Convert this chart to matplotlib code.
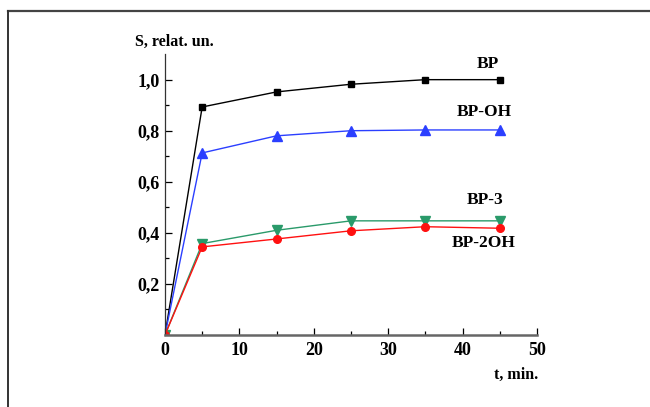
import matplotlib
matplotlib.use('Agg')
import matplotlib.pyplot as plt
from matplotlib.lines import Line2D
from matplotlib.ticker import MultipleLocator, FixedLocator

# time, min
t = [0, 5, 15, 25, 35, 45]
# relative sensitivity S for each compound
bp = [0.0, 0.893, 0.952, 0.982, 1.0, 1.0]
bp_oh = [0.0, 0.713, 0.780, 0.800, 0.803, 0.803]
bp_3 = [0.0, 0.358, 0.410, 0.447, 0.447, 0.447]
bp_2oh = [0.0, 0.345, 0.376, 0.408, 0.424, 0.418]

yticks = [0.2, 0.4, 0.6, 0.8, 1.0]
ytick_labels = ["0,2", "0,4", "0,6", "0,8", "1,0"]
xticks = [0, 10, 20, 30, 40, 50]

plt.rcParams['font.family'] = ['Liberation Serif', 'DejaVu Serif']
plt.rcParams['font.weight'] = 'bold'

fig = plt.figure(figsize=(6.5, 4.07), dpi=100)
ax = fig.add_axes([0.2538, 0.177, 0.5723, 0.690])

ax.plot(t, bp, color='black', lw=1, marker='s', ms=5, label='BP')
ax.plot(t, bp_oh, color='#2b3fff', lw=1, marker='^', ms=7, label='BP-OH')
ax.plot(t, bp_3, color='#2a9a6a', lw=1, marker='v', ms=7, label='BP-3')
ax.plot(t, bp_2oh, color='#ff1010', lw=1, marker='o', ms=5.5, label='BP-2OH')

ax.set_xlim(0, 50)
ax.set_ylim(0, 1.1)
ax.spines['top'].set_visible(False)
ax.spines['right'].set_visible(False)
ax.spines['bottom'].set_color('#666666')
ax.spines['bottom'].set_linewidth(1.8)
ax.spines['left'].set_color('#333333')
ax.spines['left'].set_linewidth(0.9)

ax.set_xticks(xticks)
ax.xaxis.set_minor_locator(MultipleLocator(5))
ax.set_yticks(yticks)
ax.set_yticklabels(ytick_labels)
ax.yaxis.set_minor_locator(FixedLocator([0.1, 0.3, 0.5, 0.7, 0.9]))
ax.tick_params(which='both', direction='in', labelsize=13, width=0.9)
ax.tick_params(which='major', length=5)
ax.tick_params(which='minor', length=3)
ax.tick_params(axis='x', pad=5)
ax.tick_params(axis='y', pad=4)

ax.text(43.4, 1.06, "BP", ha='center', va='center', fontsize=12.5, fontweight='bold')
ax.text(42.9, 0.875, "BP-OH", ha='center', va='center', fontsize=12.5, fontweight='bold')
ax.text(43.0, 0.53, "BP-3", ha='center', va='center', fontsize=12.5, fontweight='bold')
ax.text(42.8, 0.36, "BP-2OH", ha='center', va='center', fontsize=12.5, fontweight='bold')

fig.text(0.208, 0.897, "S, relat. un.", ha='left', va='center', fontsize=11.5, fontweight='bold')
fig.text(0.828, 0.078, "t, min.", ha='right', va='center', fontsize=11.5, fontweight='bold')

# outer frame
fig.add_artist(Line2D([7.5 / 650, 1], [1 - 10.5 / 407, 1 - 10.5 / 407], color='#444444', lw=1.6, transform=fig.transFigure))
fig.add_artist(Line2D([7.5 / 650, 7.5 / 650], [0, 1 - 10.5 / 407], color='#333333', lw=1.4, transform=fig.transFigure))

fig.savefig('out.png', dpi=100)
